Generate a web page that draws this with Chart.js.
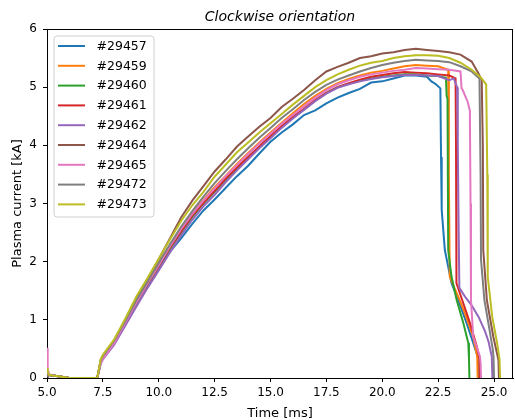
<!DOCTYPE html>
<html lang="en">
<head>
<meta charset="UTF-8">
<title>Clockwise orientation</title>
<script src="https://cdn.jsdelivr.net/npm/chart.js"></script>
<style>
  html, body { margin: 0; padding: 0; background: #fff; }
</style>
</head>
<body>
<canvas id="plasmaChart" width="515" height="420"></canvas>
<script>
// shot numbers and matplotlib tab10 colours
const shotLabels = ['#29457', '#29459', '#29460', '#29461', '#29462', '#29464', '#29465', '#29472', '#29473'];
const shotColors = ['#1f77b4', '#ff7f0e', '#2ca02c', '#d62728', '#9467bd', '#8c564b', '#e377c2', '#7f7f7f', '#bcbd22'];

const xTicks = [5.0, 7.5, 10.0, 12.5, 15.0, 17.5, 20.0, 22.5, 25.0];
const yTicks = [0, 1, 2, 3, 4, 5, 6];

// common time base for the ramp-up part [ms]
const riseTime = [5.0, 5.03, 5.1, 5.5, 6.0, 7.25, 7.4, 7.5, 8.0, 8.5, 9.0, 9.5, 10.0, 10.5, 11.0, 11.5, 12.0, 12.5,
  13.0, 13.5, 14.0, 14.5, 15.0, 15.5, 16.0, 16.5, 17.0, 17.5, 18.0, 18.5, 19.0, 19.5, 20.0, 20.5, 21.0, 21.5, 22.0];

// plasma current [kA] on riseTime
const rise29457 = [0.10, 0.07, 0.05, 0.03, 0.00, 0.00, 0.26, 0.34, 0.60, 0.92, 1.25, 1.57, 1.88, 2.17, 2.40, 2.65, 2.88, 3.07,
  3.27, 3.47, 3.65, 3.86, 4.06, 4.22, 4.36, 4.52, 4.60, 4.72, 4.82, 4.90, 4.97, 5.08, 5.10, 5.15, 5.20, 5.20, 5.18];
const rise29459 = [0.10, 0.07, 0.05, 0.03, 0.00, 0.00, 0.27, 0.35, 0.62, 0.96, 1.30, 1.63, 1.94, 2.27, 2.56, 2.83, 3.06, 3.28,
  3.48, 3.68, 3.87, 4.05, 4.22, 4.39, 4.55, 4.71, 4.85, 4.97, 5.07, 5.14, 5.20, 5.25, 5.28, 5.32, 5.36, 5.38, 5.37];
const rise29460 = [0.10, 0.07, 0.05, 0.03, 0.00, 0.00, 0.27, 0.35, 0.61, 0.94, 1.28, 1.60, 1.91, 2.22, 2.50, 2.77, 3.00, 3.20,
  3.41, 3.60, 3.79, 3.97, 4.15, 4.32, 4.47, 4.62, 4.77, 4.90, 5.00, 5.06, 5.11, 5.15, 5.18, 5.20, 5.22, 5.22, 5.20];
const rise29461 = [0.10, 0.07, 0.05, 0.03, 0.00, 0.00, 0.27, 0.35, 0.62, 0.95, 1.30, 1.62, 1.92, 2.24, 2.52, 2.79, 3.01, 3.22,
  3.43, 3.62, 3.80, 3.98, 4.16, 4.33, 4.49, 4.63, 4.78, 4.90, 5.00, 5.07, 5.13, 5.18, 5.21, 5.24, 5.26, 5.25, 5.24];
const rise29462 = [0.10, 0.07, 0.05, 0.03, 0.00, 0.00, 0.25, 0.32, 0.57, 0.90, 1.23, 1.55, 1.85, 2.16, 2.45, 2.72, 2.95, 3.15,
  3.37, 3.57, 3.76, 3.95, 4.12, 4.30, 4.46, 4.61, 4.76, 4.89, 4.99, 5.05, 5.10, 5.14, 5.17, 5.19, 5.21, 5.21, 5.20];
const rise29464 = [0.10, 0.07, 0.05, 0.03, 0.00, 0.00, 0.30, 0.38, 0.64, 0.99, 1.36, 1.70, 2.04, 2.40, 2.76, 3.05, 3.30, 3.55,
  3.76, 3.98, 4.15, 4.32, 4.47, 4.66, 4.80, 4.95, 5.12, 5.27, 5.35, 5.42, 5.50, 5.53, 5.58, 5.60, 5.64, 5.66, 5.64];
const rise29465 = [0.52, 0.15, 0.06, 0.03, 0.00, 0.00, 0.24, 0.33, 0.60, 0.95, 1.30, 1.63, 1.94, 2.26, 2.56, 2.82, 3.05, 3.26,
  3.47, 3.66, 3.85, 4.03, 4.20, 4.37, 4.52, 4.67, 4.82, 4.95, 5.05, 5.12, 5.18, 5.22, 5.25, 5.28, 5.30, 5.33, 5.32];
const rise29472 = [0.10, 0.07, 0.05, 0.03, 0.00, 0.00, 0.30, 0.38, 0.64, 0.98, 1.34, 1.66, 1.98, 2.30, 2.60, 2.87, 3.12, 3.35,
  3.56, 3.76, 3.95, 4.13, 4.30, 4.47, 4.62, 4.78, 4.92, 5.04, 5.13, 5.20, 5.27, 5.33, 5.38, 5.42, 5.45, 5.47, 5.46];
const rise29473 = [0.17, 0.10, 0.05, 0.03, 0.00, 0.00, 0.32, 0.40, 0.66, 1.02, 1.40, 1.72, 2.05, 2.38, 2.70, 2.97, 3.20, 3.46,
  3.67, 3.88, 4.05, 4.22, 4.38, 4.54, 4.70, 4.85, 5.00, 5.12, 5.22, 5.30, 5.37, 5.42, 5.45, 5.50, 5.53, 5.55, 5.55];

// flat top and termination, each shot on its own times
const tailTime29457 = [22.2, 22.4, 22.6, 22.63, 22.66, 22.8, 23.1, 23.4, 23.78, 24.23, 24.3, 24.32];
const tail29457 = [5.10, 5.05, 4.98, 3.80, 2.89, 2.20, 1.63, 1.34, 0.94, 0.42, 0.31, 0.00];
const tailTime29459 = [22.5, 22.95, 22.98, 23.02, 23.4, 23.7, 24.07, 24.25, 24.27];
const tail29459 = [5.36, 5.30, 3.50, 1.74, 1.40, 1.11, 0.71, 0.37, 0.00];
const tailTime29460 = [22.5, 22.85, 22.88, 22.92, 22.95, 23.1, 23.33, 23.63, 23.85, 23.88, 23.9];
const tail29460 = [5.19, 5.16, 4.85, 4.80, 2.20, 1.74, 1.34, 0.94, 0.60, 0.34, 0.00];
const tailTime29461 = [22.5, 23.0, 23.28, 23.3, 23.32, 23.63, 23.93, 24.23, 24.35, 24.37];
const tail29461 = [5.22, 5.20, 5.15, 4.00, 1.63, 1.28, 0.94, 0.54, 0.34, 0.00];
const tailTime29462 = [22.5, 23.0, 23.2, 23.35, 23.38, 23.42, 23.45, 23.7, 24.0, 24.31, 24.6, 24.76, 24.9, 24.93];
const tail29462 = [5.19, 5.12, 5.15, 5.00, 4.00, 2.50, 1.55, 1.40, 1.25, 1.05, 0.80, 0.62, 0.37, 0.00];
const tailTime29464 = [22.5, 23.0, 23.5, 24.0, 24.3, 24.45, 24.5, 24.52, 24.68, 24.97, 25.2, 25.22];
const tail29464 = [5.62, 5.60, 5.56, 5.44, 5.24, 5.12, 4.00, 2.20, 1.34, 0.71, 0.31, 0.00];
const tailTime29465 = [22.5, 23.0, 23.5, 23.55, 23.6, 23.82, 23.92, 23.95, 23.97, 24.07, 24.37, 24.4, 24.42];
const tail29465 = [5.31, 5.30, 5.27, 4.98, 4.95, 4.75, 4.60, 3.00, 1.34, 0.71, 0.37, 0.25, 0.00];
const tailTime29472 = [22.5, 23.0, 23.5, 24.0, 24.35, 24.4, 24.42, 24.57, 24.8, 24.95, 24.98, 25.0];
const tail29472 = [5.45, 5.43, 5.36, 5.27, 5.15, 3.50, 2.03, 1.34, 0.83, 0.48, 0.35, 0.00];
const tailTime29473 = [22.5, 23.0, 23.5, 24.0, 24.4, 24.65, 24.7, 24.72, 24.92, 25.14, 25.25, 25.27];
const tail29473 = [5.54, 5.50, 5.42, 5.30, 5.17, 5.05, 3.50, 1.74, 1.05, 0.60, 0.31, 0.00];

const riseValues = [rise29457, rise29459, rise29460, rise29461, rise29462, rise29464, rise29465, rise29472, rise29473];
const tailTimes = [tailTime29457, tailTime29459, tailTime29460, tailTime29461, tailTime29462, tailTime29464, tailTime29465, tailTime29472, tailTime29473];
const tailValues = [tail29457, tail29459, tail29460, tail29461, tail29462, tail29464, tail29465, tail29472, tail29473];

const FONT = "'DejaVu Sans', sans-serif";

function toPoints(i) {
  const pts = riseTime.map((t, k) => ({ x: t, y: riseValues[i][k] }));
  tailTimes[i].forEach((t, k) => pts.push({ x: t, y: tailValues[i][k] }));
  return pts;
}

const datasets = shotLabels.map((label, i) => ({
  label: label,
  data: toPoints(i),
  borderColor: shotColors[i],
  backgroundColor: shotColors[i],
  borderWidth: 2,
  pointRadius: 0,
  tension: 0,
  fill: false,
  order: shotLabels.length - i   // later shots drawn on top, like matplotlib
}));

// title, top/right spines, axis labels and the boxed legend
const decorations = {
  id: 'decorations',
  afterDraw(chart) {
    const { ctx, chartArea: a } = chart;
    ctx.save();
    ctx.strokeStyle = '#000';
    ctx.lineWidth = 1;
    ctx.beginPath();
    ctx.moveTo(Math.round(a.left), Math.round(a.top) + 0.5);
    ctx.lineTo(Math.round(a.right), Math.round(a.top) + 0.5);
    ctx.moveTo(Math.round(a.right) - 0.5, Math.round(a.top));
    ctx.lineTo(Math.round(a.right) - 0.5, Math.round(a.bottom));
    ctx.stroke();

    ctx.fillStyle = '#000';
    ctx.textAlign = 'center';
    ctx.textBaseline = 'alphabetic';
    ctx.font = 'italic 14px ' + FONT;
    ctx.fillText('Clockwise orientation', (a.left + a.right) / 2, 20.5);

    ctx.font = '13px ' + FONT;
    ctx.fillText('Time [ms]', (a.left + a.right) / 2, 416.5);

    ctx.save();
    ctx.translate(17.5, (a.top + a.bottom) / 2);
    ctx.rotate(-Math.PI / 2);
    ctx.textBaseline = 'middle';
    ctx.fillText('Plasma current [kA]', 0, 0);
    ctx.restore();

    // legend frame
    const bx = 54, by = 36, bw = 100, bh = 181, r = 3;
    ctx.beginPath();
    ctx.moveTo(bx + r, by);
    ctx.arcTo(bx + bw, by, bx + bw, by + bh, r);
    ctx.arcTo(bx + bw, by + bh, bx, by + bh, r);
    ctx.arcTo(bx, by + bh, bx, by, r);
    ctx.arcTo(bx, by, bx + bw, by, r);
    ctx.closePath();
    ctx.fillStyle = 'rgba(255,255,255,0.8)';
    ctx.fill();
    ctx.strokeStyle = '#d0d0d0';
    ctx.stroke();

    ctx.font = '12.5px ' + FONT;
    ctx.textAlign = 'left';
    ctx.textBaseline = 'middle';
    chart.data.datasets.forEach((ds, i) => {
      const y = 46 + i * 19.8;
      ctx.strokeStyle = ds.borderColor;
      ctx.lineWidth = 2;
      ctx.beginPath();
      ctx.moveTo(58, y);
      ctx.lineTo(85, y);
      ctx.stroke();
      ctx.fillStyle = '#000';
      ctx.fillText(ds.label, 96.5, y + 0.5);
    });
    ctx.restore();
  }
};

new Chart(document.getElementById('plasmaChart'), {
  type: 'line',
  data: { datasets: datasets },
  options: {
    responsive: false,
    animation: false,
    layout: { padding: { top: 29, right: 2, left: 0, bottom: 0 } },
    plugins: {
      legend: { display: false },
      tooltip: { enabled: false },
      title: { display: false }
    },
    scales: {
      x: {
        type: 'linear',
        min: 5,
        max: 25.85,
        afterBuildTicks: s => { s.ticks = xTicks.map(v => ({ value: v })); },
        afterFit: s => { s.height = 42; },
        grid: { drawOnChartArea: false, drawTicks: true, tickLength: 4, color: '#000' },
        border: { display: true, color: '#000', width: 1 },
        ticks: {
          color: '#000', autoSkip: false, maxRotation: 0, padding: 4,
          font: { family: FONT, size: 12 },
          callback: v => v.toFixed(1)
        }
      },
      y: {
        type: 'linear',
        min: 0,
        max: 6,
        afterBuildTicks: s => { s.ticks = yTicks.map(v => ({ value: v })); },
        afterFit: s => { s.width = 47; },
        grid: { drawOnChartArea: false, drawTicks: true, tickLength: 4, color: '#000' },
        border: { display: true, color: '#000', width: 1 },
        ticks: {
          color: '#000', padding: 6,
          font: { family: FONT, size: 12 },
          callback: v => String(v)
        }
      }
    }
  },
  plugins: [decorations]
});
</script>
</body>
</html>
